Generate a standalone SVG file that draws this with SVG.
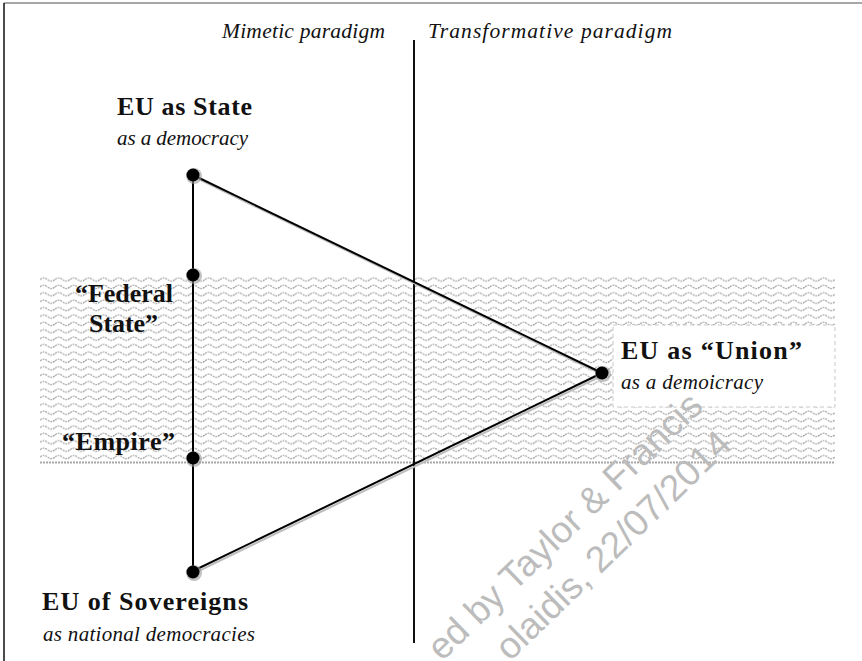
<svg xmlns="http://www.w3.org/2000/svg" width="862" height="661" viewBox="0 0 862 661">
<defs>
<pattern id="wave" x="40" y="275" width="15" height="7.4" patternUnits="userSpaceOnUse">
<path d="M0,4.5 Q3.75,1.3 7.5,4.5 T15,4.5" fill="none" stroke="#a9a9a9" stroke-width="1.3" stroke-dasharray="2,0.8"/>
</pattern>
<style>
.b{font-family:"Liberation Serif","Times New Roman",serif;font-weight:bold;font-size:26px;fill:#111}
.i{font-family:"Liberation Serif","Times New Roman",serif;font-style:italic;font-size:21px;fill:#111}
.t{font-family:"Liberation Serif","Times New Roman",serif;font-style:italic;font-size:21.5px;fill:#111}
.ln{stroke:#000;stroke-width:2;fill:none}
.sh{stroke:#bdbdbd;stroke-width:2;fill:none}
.dot{fill:#000}
.dsh{fill:#9a9a9a;opacity:0.6}
.wm{font-family:"Liberation Sans",Arial,sans-serif;font-size:37px;fill:#bcbcbc}
</style>
</defs>
<rect width="862" height="661" fill="#fff"/>
<g id="frame">
<line x1="4" y1="3" x2="862" y2="3" stroke="#8a8a8a" stroke-width="1.5"/>
<line x1="4" y1="3" x2="4" y2="661" stroke="#111" stroke-width="1.5"/>
</g>
<g id="band">
<rect x="40" y="275" width="795" height="187" fill="url(#wave)"/>
<line x1="40" y1="462.5" x2="835" y2="462.5" stroke="#a8a8a8" stroke-width="2" stroke-dasharray="2,1"/>
<rect x="613" y="325" width="222" height="82" fill="#fff" stroke="#c8c8c8" stroke-width="1" stroke-dasharray="4,3"/>
</g>
<g id="paradigms">
<text class="t" x="222" y="38" textLength="163" lengthAdjust="spacing">Mimetic paradigm</text>
<text class="t" x="428" y="38" textLength="244" lengthAdjust="spacing">Transformative paradigm</text>
<line x1="414" y1="40" x2="414" y2="643" stroke="#111" stroke-width="2"/>
</g>
<g id="connectors">
<g transform="translate(1.5,2)">
<line class="sh" x1="193" y1="175" x2="602" y2="373"/>
<line class="sh" x1="193" y1="571" x2="602" y2="373"/>
</g>
<line class="ln" x1="193" y1="175" x2="193" y2="571"/>
<line class="ln" x1="193" y1="175" x2="602" y2="373"/>
<line class="ln" x1="193" y1="571" x2="602" y2="373"/>
</g>
<g id="node-state">
<circle class="dsh" cx="194" cy="176" r="8"/>
<circle class="dot" cx="193" cy="175" r="6.5"/>
<text class="b" x="117" y="115" textLength="135" lengthAdjust="spacing">EU as State</text>
<text class="i" x="117" y="145" textLength="131" lengthAdjust="spacing">as a democracy</text>
</g>
<g id="node-federal">
<circle class="dsh" cx="194" cy="276" r="8"/>
<circle class="dot" cx="193" cy="275" r="6.5"/>
<text class="b" x="75" y="302" textLength="98" lengthAdjust="spacing">“Federal</text>
<text class="b" x="89" y="332" textLength="69" lengthAdjust="spacing">State”</text>
</g>
<g id="node-empire">
<circle class="dsh" cx="194" cy="459" r="8"/>
<circle class="dot" cx="193" cy="458" r="6.5"/>
<text class="b" x="62" y="450" textLength="113" lengthAdjust="spacing">“Empire”</text>
</g>
<g id="node-sovereigns">
<circle class="dsh" cx="194" cy="573" r="8"/>
<circle class="dot" cx="193" cy="572" r="6.5"/>
<text class="b" x="42" y="610" textLength="206" lengthAdjust="spacing">EU of Sovereigns</text>
<text class="i" x="43" y="641" textLength="212" lengthAdjust="spacing">as national democracies</text>
</g>
<g id="node-union">
<circle class="dsh" cx="603" cy="374" r="8"/>
<circle class="dot" cx="602" cy="373" r="6.5"/>
<text class="b" x="621" y="359" textLength="181" lengthAdjust="spacing">EU as “Union”</text>
<text class="i" x="621" y="389" textLength="142" lengthAdjust="spacing">as a demoicracy</text>
</g>
<g id="watermark">
<text class="wm" transform="translate(442,662) rotate(-44)">ed by Taylor &amp; Francis</text>
<text class="wm" transform="translate(510,662) rotate(-44)">olaidis, 22/07/2014</text>
</g>
</svg>
